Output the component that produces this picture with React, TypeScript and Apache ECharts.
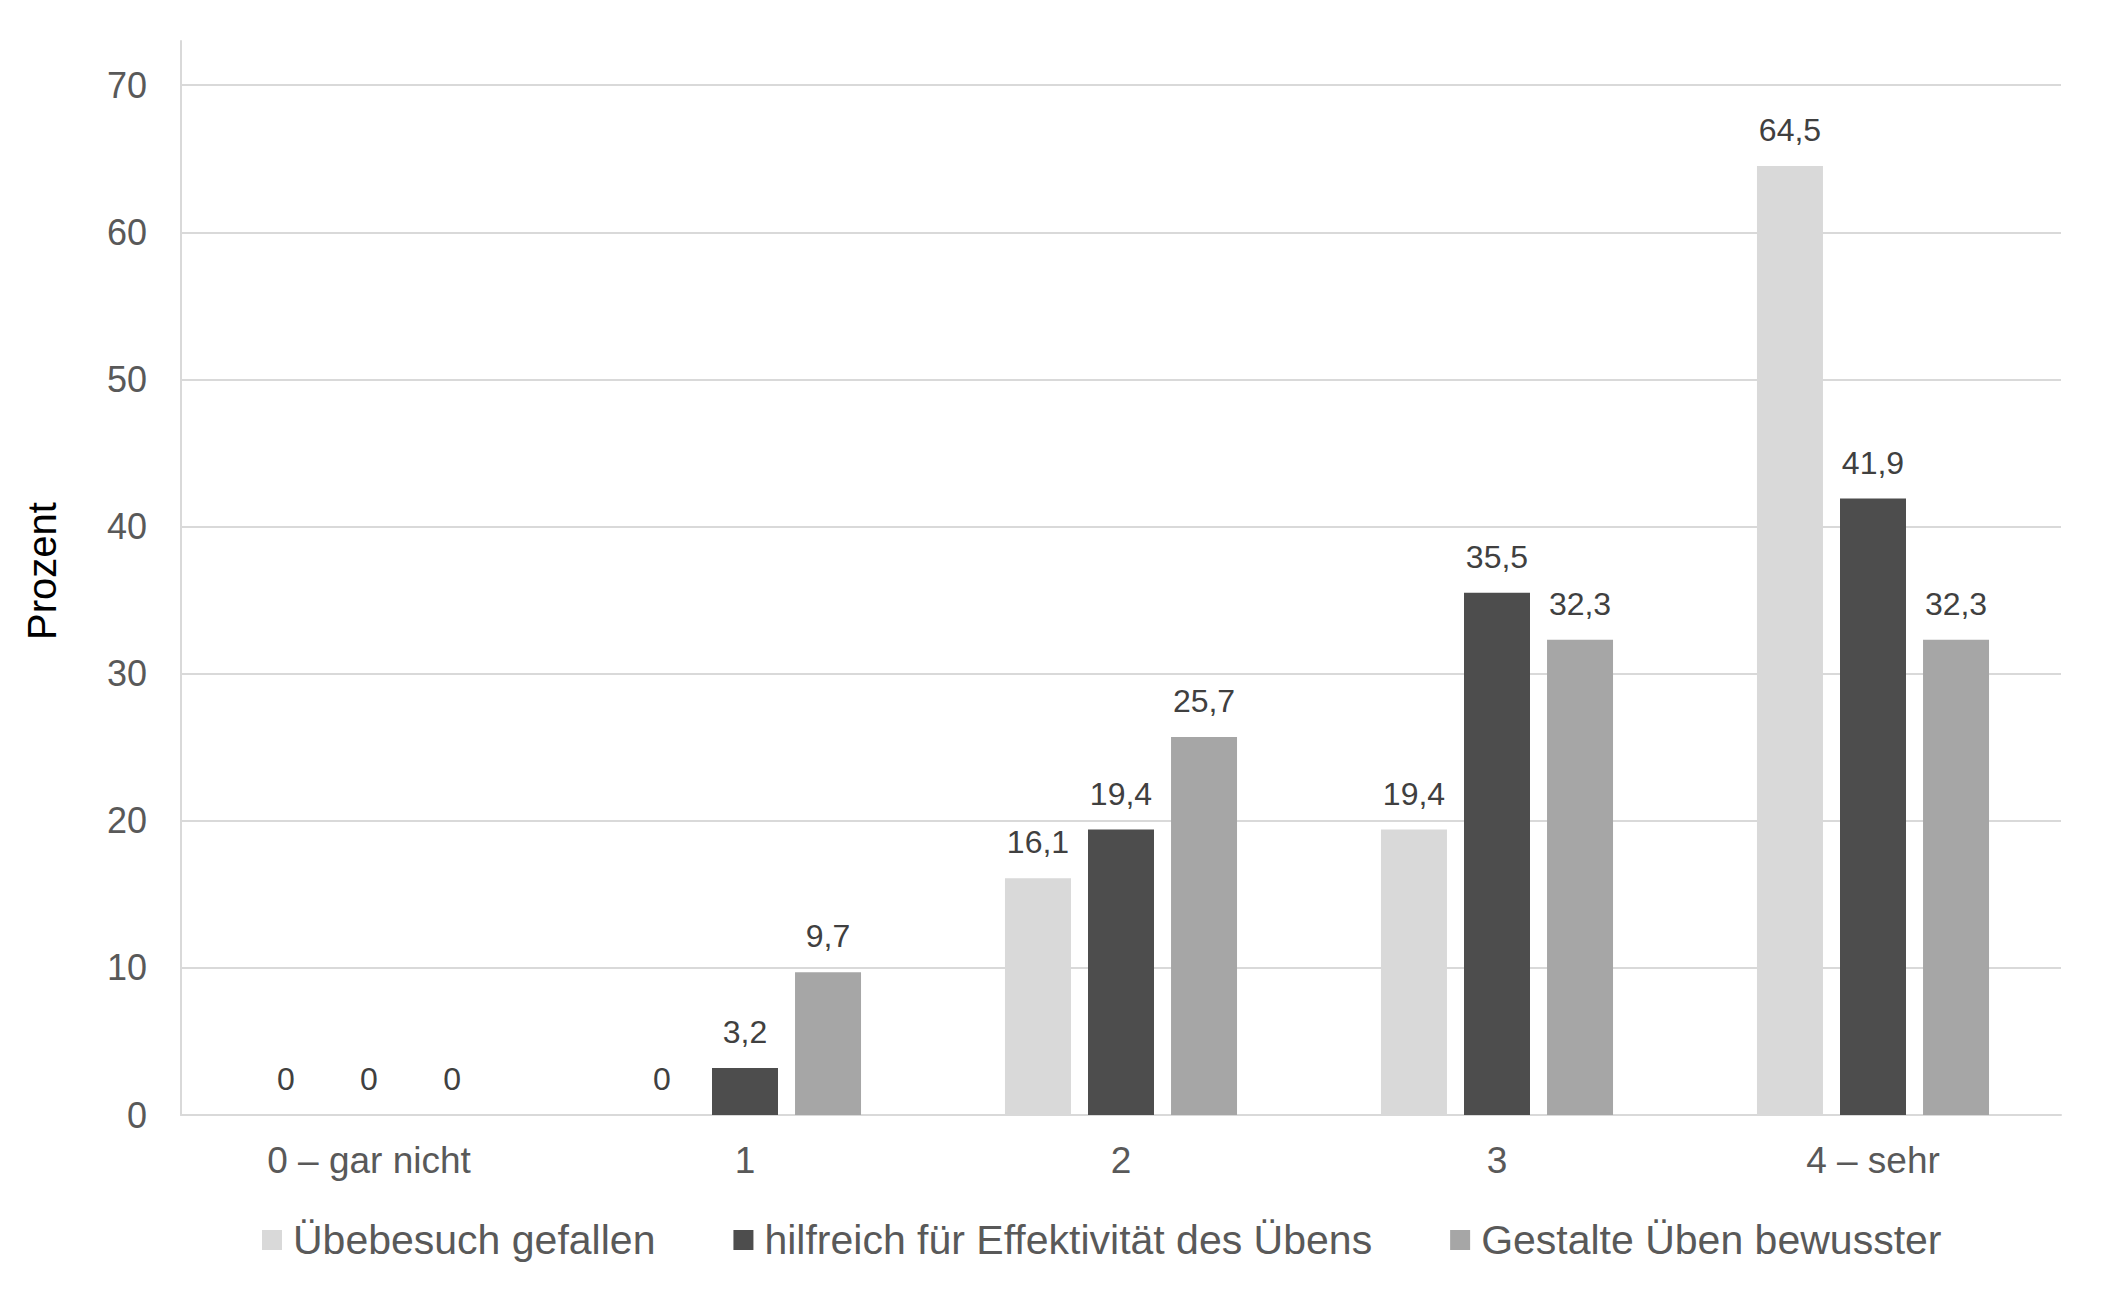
import React, { useEffect, useRef } from "react";
import * as echarts from "echarts";

const categories = ["0 – gar nicht", "1", "2", "3", "4 – sehr"];
const seriesNames = [
  "Übebesuch gefallen",
  "hilfreich für Effektivität des Übens",
  "Gestalte Üben bewusster",
];
const gefallen = [0, 0, 16.1, 19.4, 64.5];
const hilfreich = [0, 3.2, 19.4, 35.5, 41.9];
const bewusster = [0, 9.7, 25.7, 32.3, 32.3];
const colors = ["#D9D9D9", "#4D4D4D", "#A6A6A6"];
const yTicks = [0, 10, 20, 30, 40, 50, 60, 70];

const FONT = "'Liberation Sans', Arial, sans-serif";

export default function App() {
  const ref = useRef<HTMLDivElement>(null);
  useEffect(() => {
    if (!ref.current) return;
    const chart = echarts.init(ref.current, undefined, { renderer: "svg" });
    const values = [gefallen, hilfreich, bewusster];
    const gridColors = yTicks.map(() => "#D9D9D9").concat(["rgba(0,0,0,0)"]);
    chart.setOption({
      animation: false,
      backgroundColor: "#ffffff",
      textStyle: { fontFamily: FONT },
      grid: { left: 181, right: 42, top: 41, bottom: 188, containLabel: false },
      legend: {
        left: 262,
        top: 1216,
        padding: 0,
        itemWidth: 20,
        itemHeight: 20,
        itemGap: 78,
        icon: "rect",
        textStyle: {
          fontFamily: FONT,
          fontSize: 41,
          color: "#595959",
          lineHeight: 48,
          padding: [0, 0, 0, 6],
        },
        data: seriesNames,
      },
      xAxis: {
        type: "category",
        data: categories,
        axisLine: { show: true, lineStyle: { color: "#D9D9D9", width: 2 } },
        axisTick: { show: false },
        axisLabel: {
          fontFamily: FONT,
          fontSize: 37,
          color: "#595959",
          margin: 23,
          lineHeight: 44,
        },
        splitLine: { show: false },
      },
      yAxis: {
        type: "value",
        min: 0,
        max: 73,
        interval: 10,
        name: "Prozent",
        nameLocation: "middle",
        nameRotate: 90,
        nameGap: 119,
        nameTextStyle: {
          fontFamily: FONT,
          fontSize: 40,
          color: "#000000",
          padding: [0, 0, 0, 14],
        },
        axisLine: { show: true, lineStyle: { color: "#D9D9D9", width: 2 } },
        axisTick: { show: false },
        axisLabel: {
          fontFamily: FONT,
          fontSize: 36,
          color: "#595959",
          margin: 34,
          showMaxLabel: false,
        },
        splitLine: { show: true, lineStyle: { color: gridColors, width: 2 } },
      },
      series: seriesNames.map((name, i) => ({
        name,
        type: "bar",
        data: values[i],
        barWidth: 66,
        barGap: "25.8%",
        itemStyle: { color: colors[i] },
        label: {
          show: true,
          position: "top",
          distance: 20,
          fontFamily: FONT,
          fontSize: 32,
          lineHeight: 32,
          color: "#404040",
          formatter: (p: any) => String(p.value).replace(".", ","),
        },
      })),
    });
    return () => chart.dispose();
  }, []);
  return (
    <div
      ref={ref}
      style={{ position: "fixed", left: 0, top: 0, width: "2103px", height: "1303px" }}
    />
  );
}
